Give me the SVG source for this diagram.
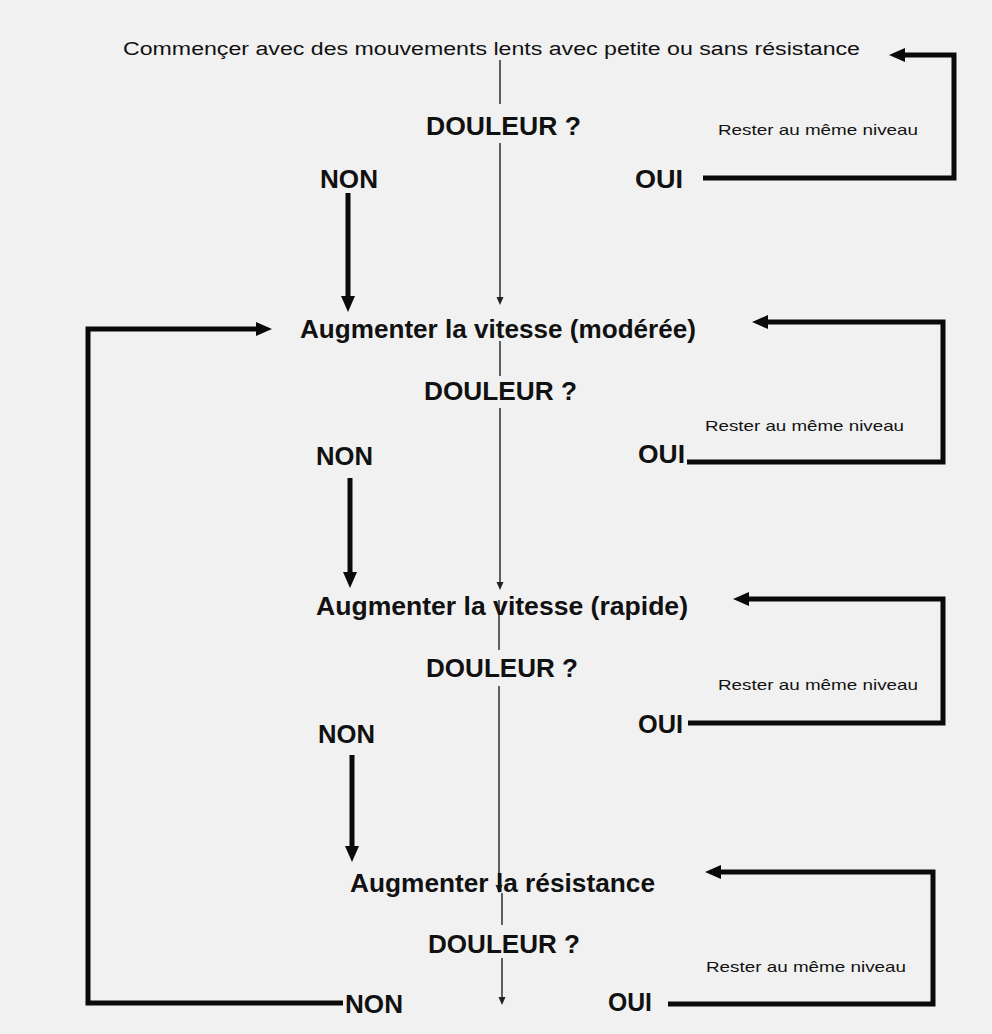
<svg xmlns="http://www.w3.org/2000/svg" width="992" height="1034" viewBox="0 0 992 1034">
<defs>
<style>
.b{font-family:"Liberation Sans",Arial,sans-serif;font-weight:bold;font-size:25px;fill:#111}
.r{font-family:"Liberation Sans",Arial,sans-serif;font-size:18px;fill:#111}
.s{font-family:"Liberation Sans",Arial,sans-serif;font-size:15px;fill:#111}
.thick{fill:none;stroke:#0a0a0a;stroke-width:5;stroke-linejoin:miter}
.thin{fill:none;stroke:#222;stroke-width:1.4}
</style>
<marker id="ah" markerUnits="userSpaceOnUse" markerWidth="18" markerHeight="16" refX="6" refY="7" orient="auto">
<path d="M0,0 L16,7 L0,14 z" fill="#0a0a0a"/>
</marker>
<marker id="as" markerUnits="userSpaceOnUse" markerWidth="10" markerHeight="8" refX="4" refY="3.5" orient="auto">
<path d="M0,0 L8,3.5 L0,7 z" fill="#222"/>
</marker>
</defs>
<rect width="992" height="1034" fill="#f1f1f1"/>

<g id="connectors">
<line class="thin" x1="500" y1="60" x2="500" y2="104"/>
<line class="thin" x1="500" y1="143" x2="500" y2="301" marker-end="url(#as)"/>
<line class="thin" x1="500" y1="341" x2="500" y2="376"/>
<line class="thin" x1="500" y1="408" x2="500" y2="586" marker-end="url(#as)"/>
<line class="thin" x1="499" y1="600" x2="499" y2="650"/>
<line class="thin" x1="499" y1="686" x2="499" y2="889" marker-end="url(#as)"/>
<line class="thin" x1="502" y1="893" x2="502" y2="925"/>
<line class="thin" x1="502" y1="958" x2="502" y2="1001" marker-end="url(#as)"/>
<line class="thick" x1="348" y1="193" x2="348" y2="302" marker-end="url(#ah)"/>
<line class="thick" x1="350" y1="478" x2="350" y2="578" marker-end="url(#ah)"/>
<line class="thick" x1="352" y1="755" x2="352" y2="852" marker-end="url(#ah)"/>
<polyline class="thick" points="703,178 954,178 954,55 899,55" marker-end="url(#ah)"/>
<polyline class="thick" points="687,462 943,462 943,322 762,322" marker-end="url(#ah)"/>
<polyline class="thick" points="688,723 943,723 943,599 743,599" marker-end="url(#ah)"/>
<polyline class="thick" points="668,1004 933,1004 933,872 715,872" marker-end="url(#ah)"/>
<polyline class="thick" points="343,1003 88,1003 88,329 262,329" marker-end="url(#ah)"/>
</g>

<g id="start"><text class="r" x="123" y="55" textLength="737" lengthAdjust="spacingAndGlyphs">Commençer avec des mouvements lents avec petite ou sans résistance</text></g>
<g id="q1"><text class="b" x="426" y="135" textLength="155" lengthAdjust="spacingAndGlyphs">DOULEUR ?</text></g>
<g id="stay1"><text class="s" x="718" y="135" textLength="200" lengthAdjust="spacingAndGlyphs">Rester au même niveau</text></g>
<g id="non1"><text class="b" x="320" y="188" textLength="58" lengthAdjust="spacingAndGlyphs">NON</text></g>
<g id="oui1"><text class="b" x="635" y="188" textLength="48" lengthAdjust="spacingAndGlyphs">OUI</text></g>

<g id="step2"><text class="b" x="300" y="338" textLength="396" lengthAdjust="spacingAndGlyphs">Augmenter la vitesse (modérée)</text></g>
<g id="q2"><text class="b" x="424" y="400" textLength="153" lengthAdjust="spacingAndGlyphs">DOULEUR ?</text></g>
<g id="stay2"><text class="s" x="705" y="431" textLength="199" lengthAdjust="spacingAndGlyphs">Rester au même niveau</text></g>
<g id="non2"><text class="b" x="316" y="465" textLength="57" lengthAdjust="spacingAndGlyphs">NON</text></g>
<g id="oui2"><text class="b" x="638" y="463" textLength="47" lengthAdjust="spacingAndGlyphs">OUI</text></g>

<g id="step3"><text class="b" x="316" y="615" textLength="372" lengthAdjust="spacingAndGlyphs">Augmenter la vitesse (rapide)</text></g>
<g id="q3"><text class="b" x="426" y="677" textLength="152" lengthAdjust="spacingAndGlyphs">DOULEUR ?</text></g>
<g id="stay3"><text class="s" x="718" y="690" textLength="200" lengthAdjust="spacingAndGlyphs">Rester au même niveau</text></g>
<g id="non3"><text class="b" x="318" y="743" textLength="57" lengthAdjust="spacingAndGlyphs">NON</text></g>
<g id="oui3"><text class="b" x="638" y="733" textLength="45" lengthAdjust="spacingAndGlyphs">OUI</text></g>

<g id="step4"><text class="b" x="350" y="892" textLength="305" lengthAdjust="spacingAndGlyphs">Augmenter la résistance</text></g>
<g id="q4"><text class="b" x="428" y="953" textLength="152" lengthAdjust="spacingAndGlyphs">DOULEUR ?</text></g>
<g id="stay4"><text class="s" x="706" y="972" textLength="200" lengthAdjust="spacingAndGlyphs">Rester au même niveau</text></g>
<g id="non4"><text class="b" x="345" y="1013" textLength="58" lengthAdjust="spacingAndGlyphs">NON</text></g>
<g id="oui4"><text class="b" x="608" y="1011" textLength="44" lengthAdjust="spacingAndGlyphs">OUI</text></g>
</svg>
